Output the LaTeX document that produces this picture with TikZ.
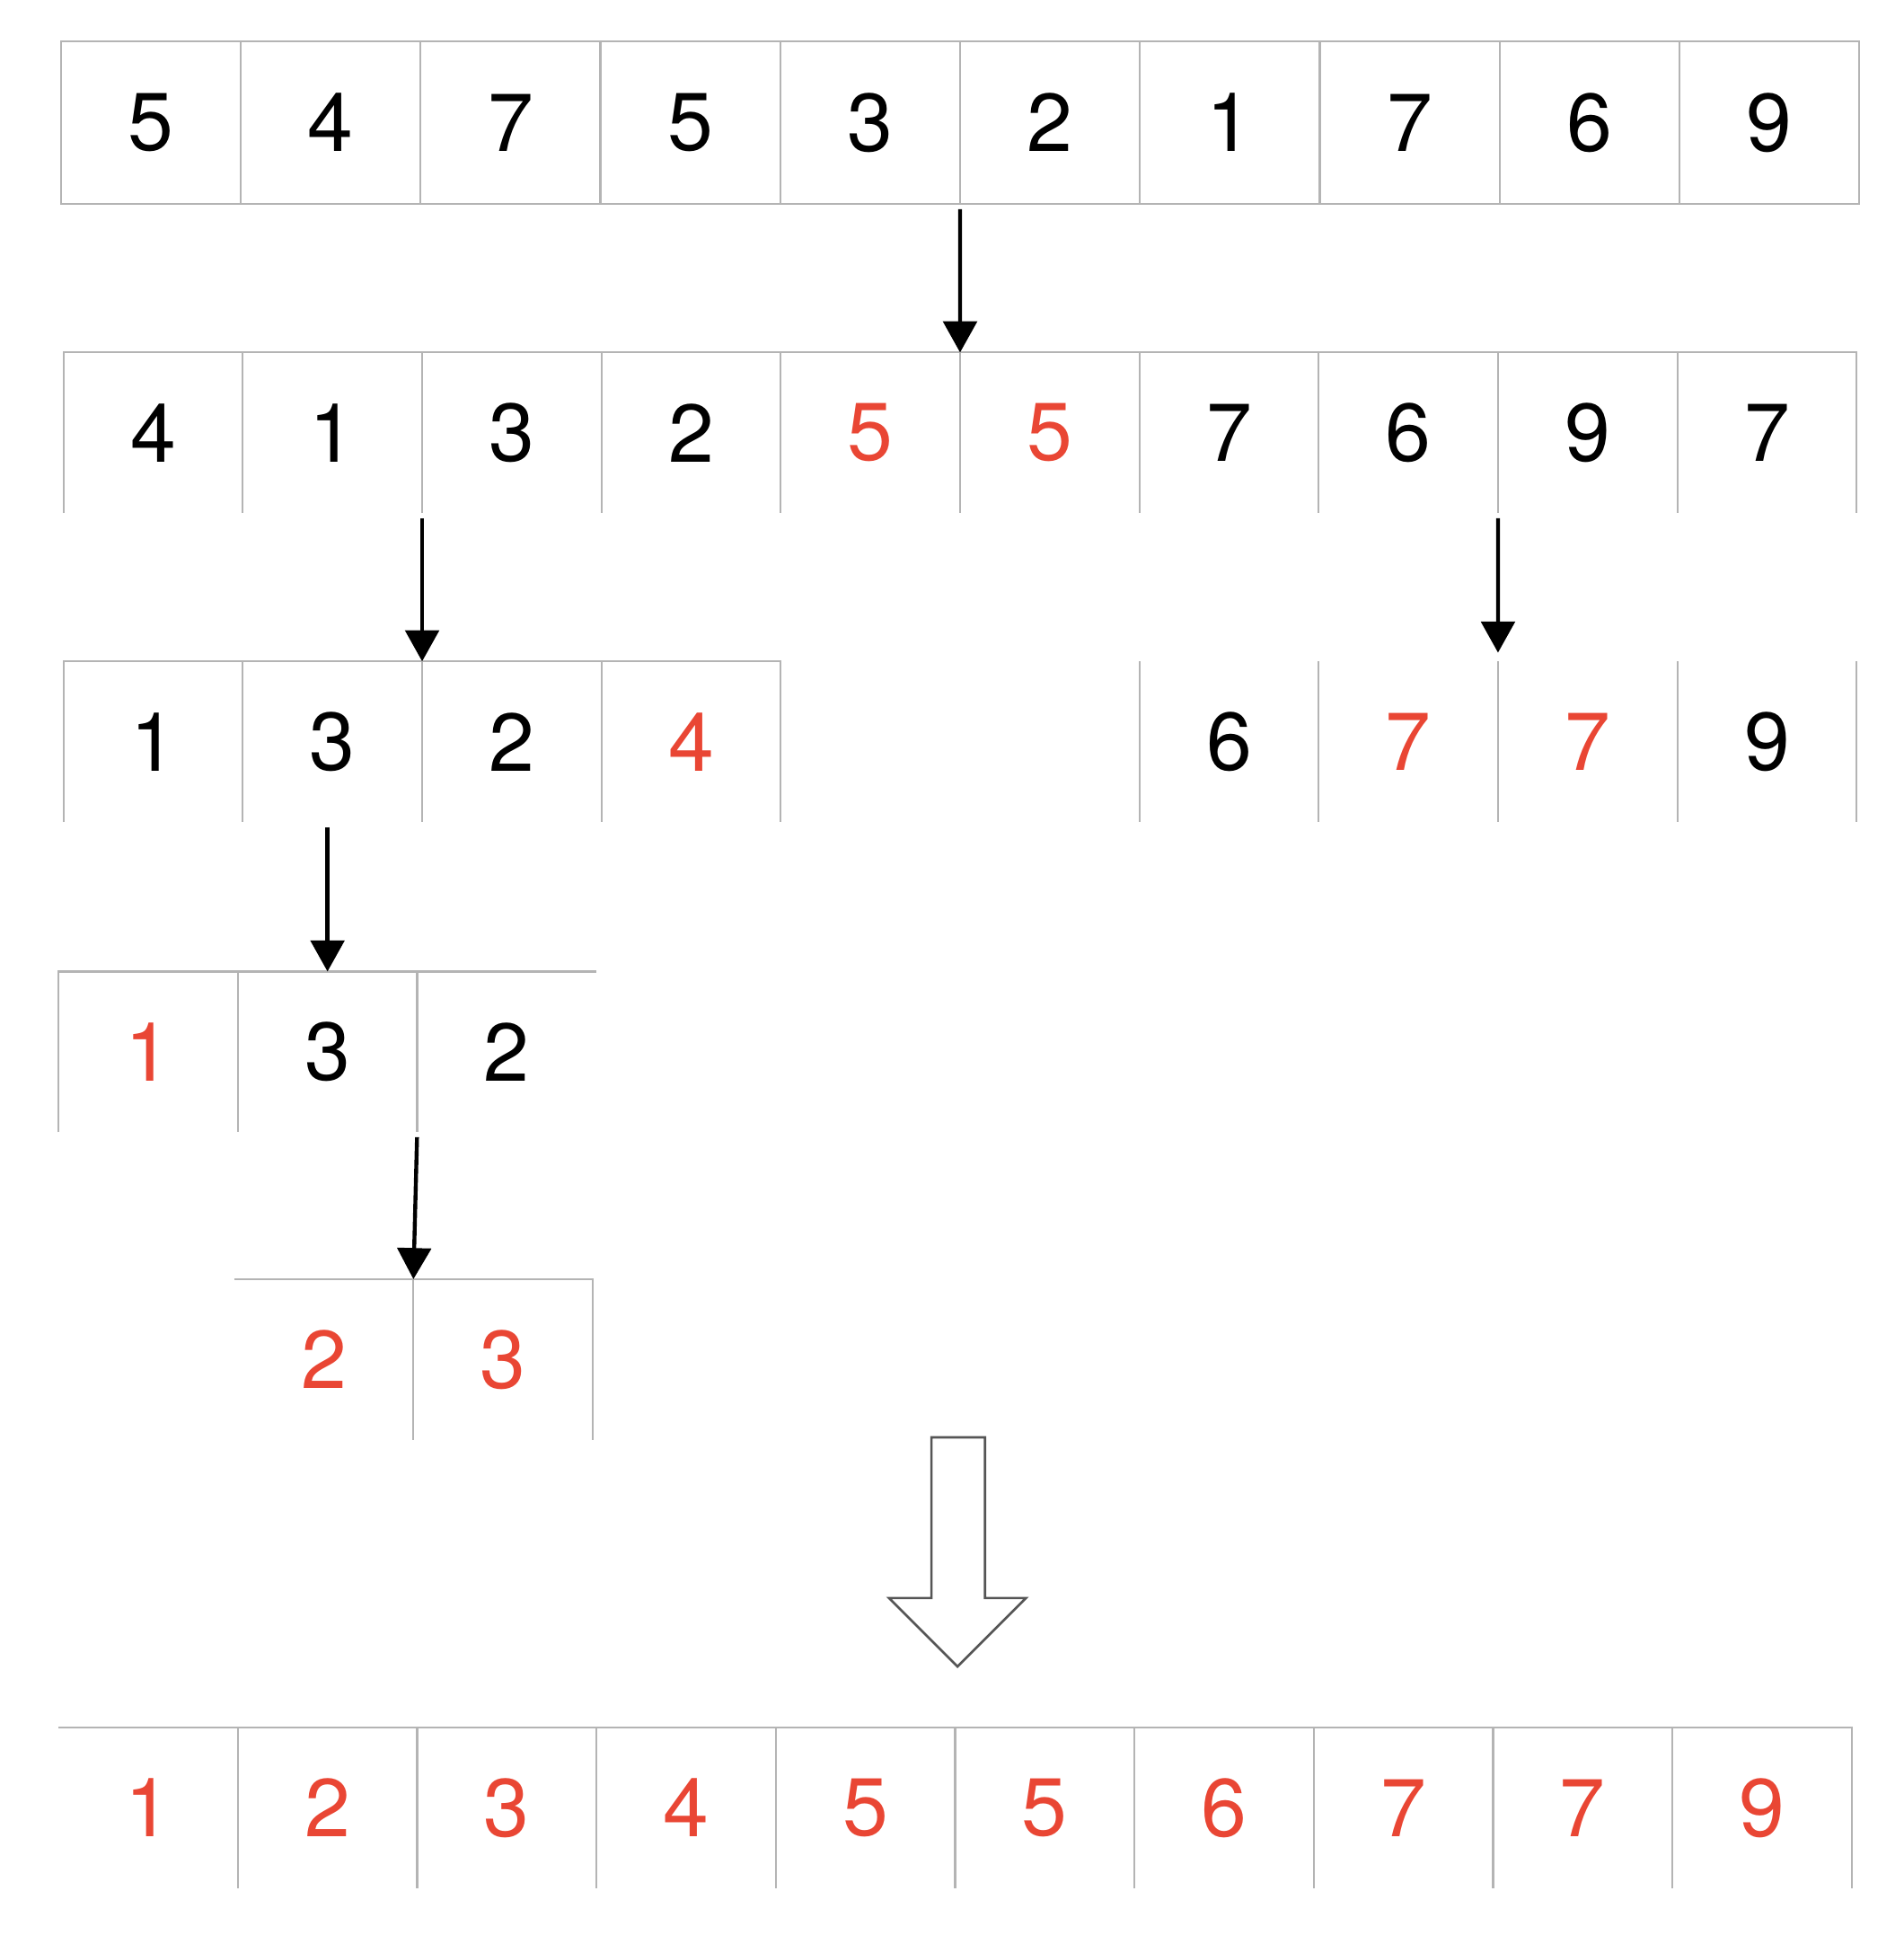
\documentclass[tikz,border=0pt]{standalone}
\usepackage{fontspec}
\setmainfont{TeX Gyre Heros}
\usepackage{tikz}
\usetikzlibrary{arrows.meta,positioning}
\definecolor{tomato}{HTML}{E94634}
\definecolor{linegray}{HTML}{B4B4B4}
\definecolor{slate}{HTML}{555555}
\tikzset{cell/.style={minimum width=2.88cm,minimum height=2.58cm,inner sep=0pt,outer sep=0pt,font=\fontsize{37.5}{40}\selectfont},incell/.style={cell,minimum width=2.888cm,minimum height=2.62cm},done/.style={cell,text=tomato},grid/.style={draw=linegray,line width=0.9pt},arrow/.style={-{Triangle[length=5mm,width=5.4mm]},line width=1.8pt,shorten <=0.08cm},bigarrow/.style={draw=slate,line width=1.1pt,fill=white,line join=miter}}
\begin{document}
\begin{tikzpicture}[node distance=0pt]
\useasboundingbox (0,0) rectangle (30.58,-31.36);
% input
\node[incell,anchor=north west] (a1) at (0.98,-0.66) {5};
\node[incell,right=of a1] (a2) {4};\node[incell,right=of a2] (a3) {7};\node[incell,right=of a3] (a4) {5};
\node[incell,right=of a4] (a5) {3};\node[incell,right=of a5] (a6) {2};\node[incell,right=of a6] (a7) {1};
\node[incell,right=of a7] (a8) {7};\node[incell,right=of a8] (a9) {6};\node[incell,right=of a9] (a10) {9};
\draw[grid] (a1.north west) rectangle (a10.south east);
\foreach \i in {1,...,9} \draw[grid] (a\i.north east) -- (a\i.south east);
% first split
\node[cell,anchor=north west] (b1) at (1.02,-5.66) {4};
\node[cell,right=of b1] (b2) {1};\node[cell,right=of b2] (b3) {3};\node[cell,right=of b3] (b4) {2};
\node[done,right=of b4] (b5) {5};\node[done,right=of b5] (b6) {5};\node[cell,right=of b6] (b7) {7};
\node[cell,right=of b7] (b8) {6};\node[cell,right=of b8] (b9) {9};\node[cell,right=of b9] (b10) {7};
\draw[grid] (b1.south west) |- (b10.north east) -- (b10.south east);
\foreach \i in {1,...,9} \draw[grid] (b\i.north east) -- (b\i.south east);
% second split
\node[cell,anchor=north west] (c1) at (1.02,-10.62) {1};
\node[cell,right=of c1] (c2) {3};\node[cell,right=of c2] (c3) {2};\node[done,right=of c3] (c4) {4};
\node[cell,right=5.76cm of c4] (c7) {6};\node[done,right=of c7] (c8) {7};
\node[done,right=of c8] (c9) {7};\node[cell,right=of c9] (c10) {9};
\draw[grid] (c1.south west) |- (c4.north east) -- (c4.south east);
\foreach \i in {1,2,3} \draw[grid] (c\i.north east) -- (c\i.south east);
\draw[grid] (c7.north west) -- (c7.south west);
\foreach \i in {7,...,10} \draw[grid] (c\i.north east) -- (c\i.south east);
% third split
\node[done,anchor=north west] (d1) at (0.94,-15.6) {1};
\node[cell,right=of d1] (d2) {3};\node[cell,right=of d2] (d3) {2};
\draw[grid] (d1.south west) |- (d3.north east);
\foreach \i in {1,2} \draw[grid] (d\i.north east) -- (d\i.south east);
% last split
\node[done,anchor=north west] (e2) at (3.76,-20.54) {2};
\node[done,right=of e2] (e3) {3};
\draw[grid] (e2.north west) -- (e3.north east) -- (e3.south east);
\draw[grid] (e2.north east) -- (e2.south east);
% sorted
\node[done,anchor=north west] (f1) at (0.94,-27.74) {1};
\node[done,right=of f1] (f2) {2};\node[done,right=of f2] (f3) {3};\node[done,right=of f3] (f4) {4};
\node[done,right=of f4] (f5) {5};\node[done,right=of f5] (f6) {5};\node[done,right=of f6] (f7) {6};
\node[done,right=of f7] (f8) {7};\node[done,right=of f8] (f9) {7};\node[done,right=of f9] (f10) {9};
\draw[grid] (f1.north west) -- (f10.north east) -- (f10.south east);
\foreach \i in {1,...,9} \draw[grid] (f\i.north east) -- (f\i.south east);
% arrows
\draw[arrow] (a5.south east) -- (b5.north east);
\draw[arrow] (b2.south east) -- (c2.north east);
\draw[arrow,shorten >=0.14cm] (b8.south east) -- (c8.north east);
\draw[arrow] (c2.south -| d2.north) -- (d2.north);
\draw[arrow] (d2.south east) -- (e2.north east);
\draw[bigarrow] (14.96,-23.08) -- (15.82,-23.08) -- (15.82,-25.66) -- (16.48,-25.66) -- (15.38,-26.76) -- (14.28,-25.66) -- (14.96,-25.66) -- cycle;
\end{tikzpicture}
\end{document}
